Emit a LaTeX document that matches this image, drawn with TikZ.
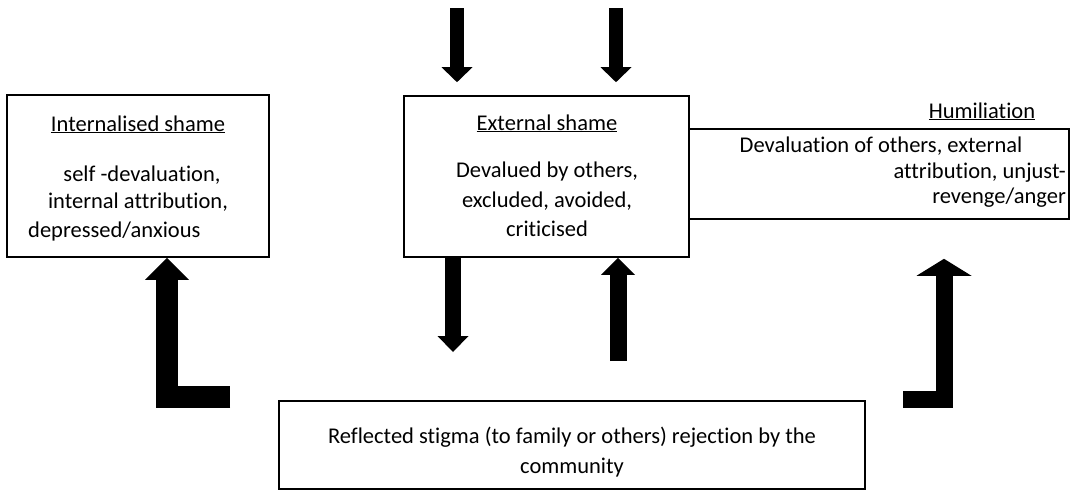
\documentclass[tikz,border=0pt]{standalone}
\usepackage{fontspec}
\setmainfont{Carlito}[Ligatures=CommonOff]
\usetikzlibrary{arrows.meta}

\tikzset{
  box/.style={draw, line width=1.6pt, inner sep=0pt},
  lbl/.style={font=\fontsize{22.5}{27}\selectfont, inner sep=0pt, anchor=base},
  blockarrow/.style n args={3}{line width=#1pt, -{Triangle[width=#2pt, length=#3pt, line width=0pt]}}
}

\begin{document}
\begin{tikzpicture}[x=1pt, y=-1pt]
\useasboundingbox (0,0) rectangle (1074,491);
% Boxes
\node[box, minimum width=262pt, minimum height=162pt] (int) at (138,176) {};
\node[box, minimum width=285pt, minimum height=161pt] (ext) at (546.5,176.5) {};
\node[box, minimum width=380pt, minimum height=90pt] (hum) at (879,174) {};
\node[box, minimum width=586pt, minimum height=88pt] (refl) at (572,445) {};
% Internalised shame
\node[lbl] (intT) at (138,131) {\underline{Internalised shame}};
\node[lbl] (int1) at (142,181) {self -devaluation,};
\node[lbl] (int2) at (138,208) {internal attribution,};
\node[lbl, anchor=base west] (int3) at (28,237) {depressed/anxious};
% External shame
\node[lbl] (extT) at (547,130) {\underline{External shame}};
\node[lbl] (ext1) at (547,177) {Devalued by others,};
\node[lbl] (ext2) at (547,207) {excluded, avoided,};
\node[lbl] (ext3) at (547,236) {criticised};
% Humiliation
\node[lbl] (humT) at (982,118) {\underline{Humiliation}};
\node[lbl] (hum1) at (881,152) {Devaluation of others, external};
\node[lbl, anchor=base east] (hum2) at (1066,178) {attribution, unjust-};
\node[lbl, anchor=base east] (hum3) at (1066,203) {revenge/anger};
% Reflected stigma
\node[lbl] (refl1) at (572,443) {Reflected stigma (to family or others) rejection by the};
\node[lbl] (refl2) at (572,473) {community};
% Free ends of the block arrows
\coordinate (t1) at (457,8);
\coordinate (t2) at (616,8);
\coordinate (d1) at (453,352);
\coordinate (u1) at (618,361);
\coordinate (l1) at (230,397);
\coordinate (l2) at (167,0);
\coordinate (j1) at (903,399);
\coordinate (j2) at (944,0);
% Arrows into external shame
\draw[blockarrow={14}{31}{15}, shorten >=13pt] (t1) -- (t1 |- ext.north);
\draw[blockarrow={14}{31}{15}, shorten >=13pt] (t2) -- (t2 |- ext.north);
% Between external shame and reflected stigma
\draw[blockarrow={16}{31}{16}] (ext.south -| d1) -- (d1);
\draw[blockarrow={17}{34}{17}] (u1) -- (u1 |- ext.south);
% Bent arrows up to the side boxes
\draw[blockarrow={22}{44}{22}] (l1) -| (l2 |- int.south);
\draw[blockarrow={17}{55}{17}, shorten >=39pt] (j1) -| (j2 |- hum.south);
\end{tikzpicture}
\end{document}
